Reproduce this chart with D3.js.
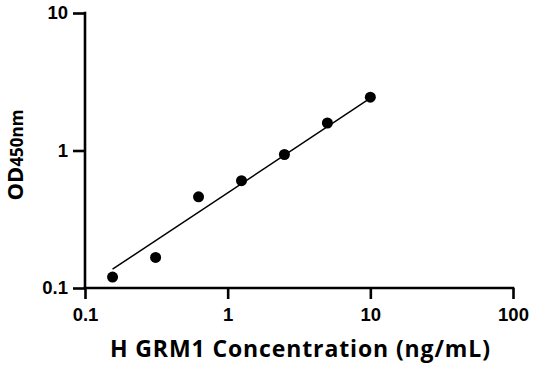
<!DOCTYPE html>
<html><head><meta charset="utf-8">
<script src="https://cdn.jsdelivr.net/npm/d3@7"></script>
<style>html,body{margin:0;padding:0;background:#fff;}</style>
</head><body>
<svg id="c" width="536" height="371"></svg>
<script>
const concentrations = [0.156, 0.3125, 0.625, 1.25, 2.5, 5, 10];
const odValues = [0.12, 0.167, 0.46, 0.603, 0.935, 1.585, 2.44];
const fitX = [0.156, 10];
const fitY = [0.137, 2.4];
const xTicks = [0.1, 1, 10, 100];
const yTicks = [0.1, 1, 10];
const xTickLabels = ["0.1", "1", "10", "100"];
const yTickLabels = ["0.1", "1", "10"];

const svg = d3.select("#c");
const font = "'Open Sans', sans-serif";
const tickFont = "'Liberation Sans', Arial, sans-serif";
const x = d3.scaleLog().domain([0.1, 100]).range([85, 513]);
const y = d3.scaleLog().domain([0.1, 10]).range([288, 13]);

const xAxis = svg.append("g").attr("transform", "translate(0,288)")
  .call(d3.axisBottom(x).tickValues(xTicks).tickFormat((d,i)=>xTickLabels[i]).tickSize(11).tickPadding(9).tickSizeOuter(0));
const yAxis = svg.append("g").attr("transform", "translate(85,0)")
  .call(d3.axisLeft(y).tickValues(yTicks).tickFormat((d,i)=>yTickLabels[i]).tickSize(12).tickPadding(5).tickSizeOuter(0));
[xAxis, yAxis].forEach(g => {
  g.select(".domain").attr("stroke", "#000").attr("stroke-width", 2.6);
  g.selectAll(".tick line").attr("stroke", "#000").attr("stroke-width", 2.6);
  g.selectAll(".tick text").attr("fill", "#000").style("font-family", tickFont).style("font-weight", "700").style("font-size", "18.5px");
});
xAxis.select(".domain").attr("d", `M${85-1.3},0H${513+1.3}`);
yAxis.select(".domain").attr("d", `M0,${288+1.3}V${13-1.3}`);

const line = d3.line().x(d => x(d[0])).y(d => y(d[1]));
svg.append("path").datum(fitX.map((v,i)=>[v, fitY[i]]))
  .attr("d", line).attr("fill", "none").attr("stroke", "#000").attr("stroke-width", 1.5);

svg.append("g").selectAll("circle").data(concentrations).join("circle")
  .attr("cx", d => x(d)).attr("cy", (d,i) => y(odValues[i])).attr("r", 5.5).attr("fill", "#000");

svg.append("text").attr("x", 110).attr("y", 357)
  .attr("textLength", 380).attr("lengthAdjust", "spacing")
  .style("font-family", font).style("font-weight", "700").style("font-size", "23px")
  .text("H GRM1 Concentration (ng/mL)");

const yt = svg.append("text").attr("transform", "translate(23,155) rotate(-90)").attr("text-anchor", "middle")
  .style("font-family", font).style("font-weight", "700");
yt.append("tspan").style("font-size", "22px").text("OD");
yt.append("tspan").style("font-size", "17px").text("450nm");
</script>
</body></html>
